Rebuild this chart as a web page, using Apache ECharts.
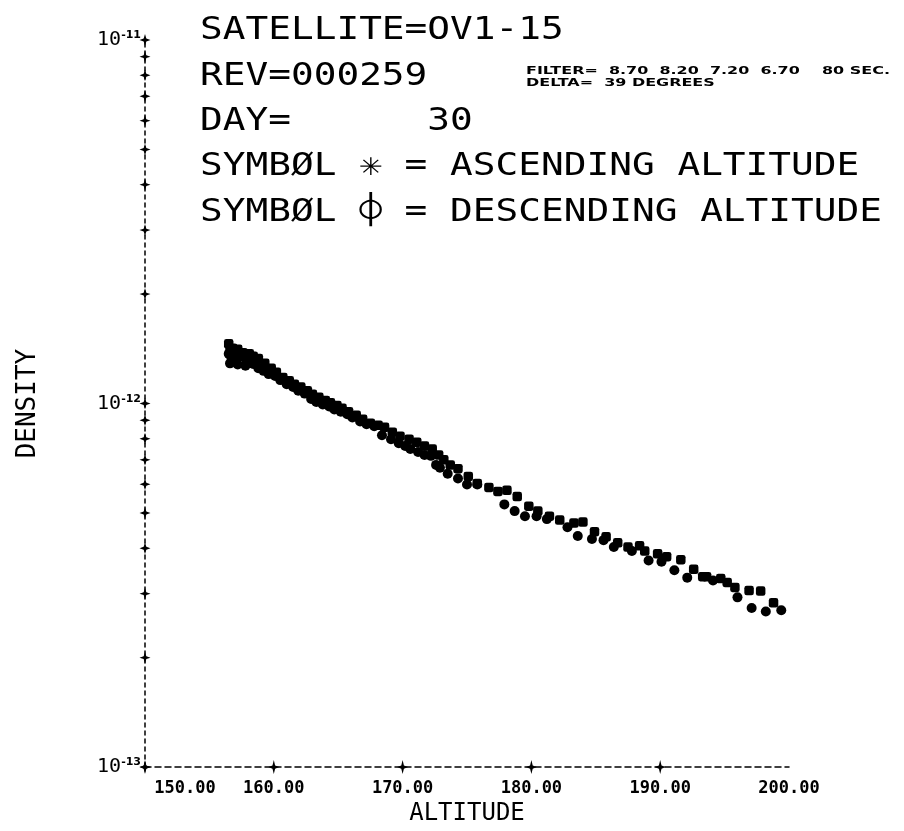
<!DOCTYPE html>
<html>
<head>
<meta charset="utf-8">
<script src="https://cdn.jsdelivr.net/npm/echarts@6/dist/echarts.min.js"></script>
<style>html,body{margin:0;padding:0;background:#fff}#c{width:904px;height:831px}</style>
</head>
<body>
<div id="c"></div>
<script>
// ---- data (altitude km, density) ----
const ascending = [
 [156.5,1.46e-12],[156.6,1.40e-12],[156.8,1.42e-12],[157.2,1.41e-12],[157.6,1.38e-12],[158.1,1.37e-12],
 [158.4,1.35e-12],[158.8,1.33e-12],[159.3,1.29e-12],[159.8,1.25e-12],[160.2,1.22e-12],[160.7,1.18e-12],
 [161.2,1.155e-12],[161.6,1.13e-12],[162.1,1.11e-12],[162.6,1.085e-12],[163.0,1.06e-12],[163.5,1.04e-12],
 [164.0,1.02e-12],[164.4,1.005e-12],[164.9,9.88e-13],[165.3,9.7e-13],[165.8,9.5e-13],[166.4,9.28e-13],
 [166.9,9.05e-13],[167.5,8.82e-13],[168.1,8.71e-13],[168.6,8.6e-13],[169.2,8.34e-13],[169.8,8.13e-13],
 [170.5,7.98e-13],[171.1,7.83e-13],[171.7,7.64e-13],[172.3,7.5e-13],[172.8,7.22e-13],[173.2,7.0e-13],
 [173.7,6.78e-13],[174.3,6.62e-13],[175.1,6.3e-13],[175.8,6.03e-13],[176.7,5.88e-13],[177.4,5.73e-13],
 [178.1,5.77e-13],[178.9,5.55e-13],[179.8,5.22e-13],[180.5,5.06e-13],[181.4,4.9e-13],[182.2,4.78e-13],
 [183.3,4.69e-13],[184.0,4.72e-13],[184.9,4.44e-13],[185.8,4.3e-13],[186.7,4.14e-13],[187.5,4.03e-13],
 [188.4,4.06e-13],[188.8,3.93e-13],[189.8,3.86e-13],[190.5,3.79e-13],[191.6,3.72e-13],[192.6,3.5e-13],
 [193.3,3.34e-13],[193.6,3.34e-13],[194.7,3.3e-13],[195.2,3.22e-13],[195.8,3.12e-13],[196.9,3.06e-13],
 [197.8,3.05e-13],[198.8,2.83e-13]
];
const descending = [
 [156.5,1.37e-12],[156.6,1.29e-12],[156.7,1.34e-12],[157.0,1.36e-12],[157.1,1.32e-12],[157.2,1.28e-12],
 [157.4,1.35e-12],[157.8,1.33e-12],[157.8,1.27e-12],[157.9,1.30e-12],[158.4,1.285e-12],[158.6,1.30e-12],
 [158.8,1.25e-12],[159.2,1.23e-12],[159.6,1.205e-12],[160.1,1.19e-12],[160.5,1.16e-12],[161.0,1.13e-12],
 [161.5,1.11e-12],[161.9,1.085e-12],[162.4,1.065e-12],[162.9,1.03e-12],[163.3,1.01e-12],[163.8,9.94e-13],
 [164.3,9.82e-13],[164.7,9.63e-13],[165.2,9.5e-13],[165.7,9.34e-13],[166.1,9.16e-13],[166.7,8.93e-13],
 [167.2,8.77e-13],[167.8,8.66e-13],[168.4,8.18e-13],[169.1,7.98e-13],[169.7,7.78e-13],[170.2,7.64e-13],
 [170.6,7.5e-13],[171.2,7.36e-13],[171.7,7.22e-13],[172.2,7.18e-13],[172.6,6.78e-13],[172.9,6.66e-13],
 [173.5,6.41e-13],[174.3,6.22e-13],[175.0,5.99e-13],[175.8,5.99e-13],[177.9,5.28e-13],[178.7,5.06e-13],
 [179.5,4.9e-13],[180.4,4.9e-13],[181.2,4.81e-13],[182.8,4.57e-13],[183.6,4.32e-13],[184.7,4.24e-13],
 [185.6,4.21e-13],[186.4,4.03e-13],[187.8,3.93e-13],[189.1,3.7e-13],[190.1,3.67e-13],[191.1,3.48e-13],
 [192.1,3.32e-13],[194.1,3.26e-13],[196.0,2.93e-13],[197.1,2.74e-13],[198.2,2.68e-13],[199.4,2.7e-13]
];
const xTickValues = [150, 160, 170, 180, 190];
const yTickValues = [1e-13,2e-13,3e-13,4e-13,5e-13,6e-13,7e-13,8e-13,9e-13,
                     1e-12,2e-12,3e-12,4e-12,5e-12,6e-12,7e-12,8e-12,9e-12,1e-11];
const headerLines = [
  'SATELLITE=OV1-15',
  'REV=000259',
  'DAY=      30',
  'SYMBØL ✳ = ASCENDING ALTITUDE',
  'SYMBØL ⌽ = DESCENDING ALTITUDE'
];
const filterLines = [
  'FILTER=  8.70  8.20  7.20  6.70    80 SEC.',
  'DELTA=  39 DEGREES'
];
const X_MIN = 150, X_MAX = 200, Y_MIN = 1e-13, Y_MAX = 1e-11;

const chart = echarts.init(document.getElementById('c'), null, {renderer:'canvas'});
const star = 'path://M5 0L6.2 3.8L10 5L6.2 6.2L5 10L3.8 6.2L0 5L3.8 3.8Z';
const plotFont = "'DejaVu Sans Mono', monospace";

const graphics = [];
headerLines.forEach((t, i) => {
  graphics.push({
    type:'text', x:200, y:15 + i*45.3, scaleX:1.18, silent:true,
    style:{text:t, font:"32px 'DejaVu Sans Mono'", fill:'#000', textVerticalAlign:'top'}
  });
});
filterLines.forEach((t, i) => {
  graphics.push({
    type:'text', x:526, y:66 + i*11.5, scaleX:1.52, silent:true,
    style:{text:t, font:"bold 10.5px 'DejaVu Sans'", fill:'#000', textVerticalAlign:'top'}
  });
});

const option = {
  animation:false,
  backgroundColor:'#fff',
  grid:{left:145, right:115, top:40, bottom:55},
  xAxis:{
    type:'value', min:X_MIN, max:X_MAX, interval:10,
    axisLine:{show:true, onZero:false, lineStyle:{color:'#000', width:1.5, type:[6,4]}},
    axisTick:{show:false}, splitLine:{show:false},
    axisLabel:{
      margin:13, color:'#000', fontSize:17, fontWeight:'bold', fontFamily:plotFont,
      formatter:(v)=> v === X_MIN ? '{f|' + v.toFixed(2) + '}' : v.toFixed(2),
      rich:{f:{fontSize:17, fontWeight:'bold', fontFamily:plotFont, color:'#000', padding:[0,0,0,80]}}
    },
    name:'ALTITUDE', nameLocation:'middle', nameGap:33,
    nameTextStyle:{fontFamily:plotFont, fontSize:24, color:'#000'}
  },
  yAxis:{
    type:'log', logBase:10, min:Y_MIN, max:Y_MAX,
    axisLine:{show:true, onZero:false, lineStyle:{color:'#000', width:1.5, type:[4,4]}},
    axisTick:{show:false}, splitLine:{show:false}, minorSplitLine:{show:false},
    axisLabel:{
      margin:4, color:'#000',
      formatter:(v)=> '{a|10}{b|' + Math.round(Math.log10(v)) + '}',
      rich:{
        a:{fontSize:20, fontFamily:plotFont, color:'#000', verticalAlign:'bottom'},
        b:{fontSize:11, fontWeight:'bold', fontFamily:"'DejaVu Sans'", color:'#000', verticalAlign:'top', padding:[0,0,8,0]}
      }
    },
    name:'DENSITY', nameLocation:'middle', nameGap:104, nameRotate:90,
    nameTextStyle:{fontFamily:plotFont, fontSize:26, color:'#000'}
  },
  graphic:graphics,
  series:[
    {type:'scatter', name:'ascending', data:ascending, symbol:'roundRect', symbolSize:9.5,
     itemStyle:{color:'#000', opacity:1}, z:3},
    {type:'scatter', name:'descending', data:descending, symbol:'circle', symbolSize:10,
     itemStyle:{color:'#000', opacity:1}, z:3},
    {type:'scatter', name:'yticks', data:yTickValues.map(v=>[X_MIN, v]), symbol:star, symbolSize:[11,12],
     itemStyle:{color:'#000', opacity:1}, clip:false, silent:true, z:4},
    {type:'scatter', name:'xticks', data:xTickValues.map(v=>[v, Y_MIN]), symbol:star, symbolSize:[11,14],
     itemStyle:{color:'#000', opacity:1}, clip:false, silent:true, z:4}
  ]
};
chart.setOption(option);
</script>
</body>
</html>
